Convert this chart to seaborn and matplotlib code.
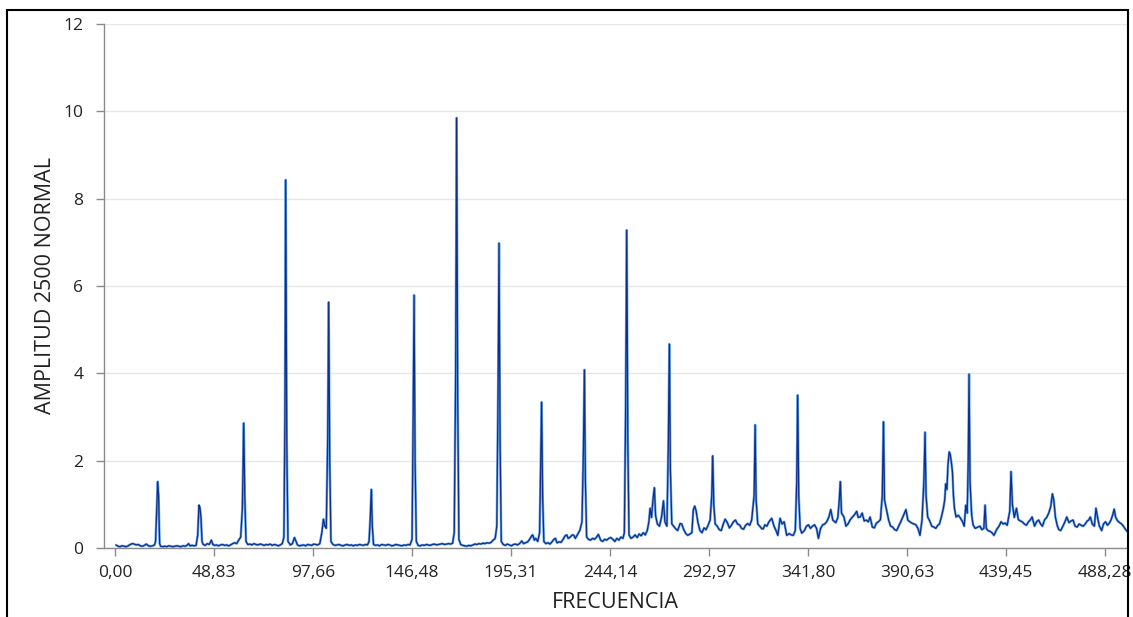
import matplotlib
matplotlib.use("Agg")
import matplotlib.pyplot as plt
import pandas as pd
import seaborn as sns
from matplotlib.patches import Rectangle

frecuencia = [
    0.5, 1.5, 2.5, 3.5, 4.5, 5.5, 6.5, 7.5, 8.5, 9.5, 10.5, 11.5, 12.5, 13.5, 14.5, 15.5, 16.5, 17.5, 18.5, 19.5,
    20.0, 20.6, 21.06, 21.5, 22.0, 22.5, 23.5, 24.5, 25.5, 26.5, 27.5, 28.5, 29.5, 30.5, 31.5, 32.5, 33.5, 34.5,
    35.5, 36.3, 37.0, 38.0, 39.0, 40.0, 40.8, 41.4, 41.9, 42.4, 42.9, 43.5, 44.5, 45.5, 46.5, 47.5, 48.3, 49.0,
    50.0, 51.0, 52.0, 53.0, 54.0, 55.0, 56.0, 57.0, 58.0, 59.0, 60.0, 61.0, 62.0, 62.8, 63.5, 64.0, 64.6, 65.5,
    66.5, 67.5, 68.5, 69.5, 70.5, 71.5, 72.5, 73.5, 74.5, 75.5, 76.5, 77.5, 78.5, 79.5, 80.5, 81.5, 82.5, 83.3,
    83.8, 84.2, 84.7, 85.3, 86.5, 87.5, 88.5, 89.3, 90.0, 91.0, 92.0, 93.0, 94.0, 95.0, 96.0, 97.0, 98.0, 99.0,
    100.0, 101.0, 102.0, 102.8, 103.5, 104.2, 104.9, 105.4, 105.9, 106.5, 107.5, 108.5, 109.5, 110.5, 111.5,
    112.5, 113.5, 114.5, 115.5, 116.5, 117.5, 118.5, 119.5, 120.5, 121.5, 122.5, 123.5, 124.5, 125.3, 125.9,
    126.4, 126.9, 127.5, 128.5, 129.5, 130.5, 131.5, 132.5, 133.5, 134.5, 135.5, 136.5, 137.5, 138.5, 139.5,
    140.5, 141.5, 142.5, 143.5, 144.5, 145.5, 146.5, 147.0, 147.5, 148.0, 148.6, 149.5, 150.5, 151.5, 152.5,
    153.5, 154.5, 155.5, 156.5, 157.5, 158.5, 159.5, 160.5, 161.5, 162.5, 163.5, 164.5, 165.5, 166.5, 167.3,
    168.0, 168.5, 169.0, 169.6, 170.5, 171.5, 172.5, 173.5, 174.5, 175.5, 176.5, 177.5, 178.5, 179.5, 180.5,
    181.5, 182.5, 183.5, 184.5, 185.5, 186.5, 187.5, 188.3, 188.9, 189.4, 189.9, 190.5, 191.5, 192.5, 193.5,
    194.5, 195.5, 196.5, 197.5, 198.5, 199.5, 200.6, 201.5, 202.5, 203.5, 204.5, 205.5, 206.0, 206.8, 207.5,
    208.5, 209.4, 209.9, 210.4, 210.9, 211.5, 212.5, 213.5, 214.5, 215.5, 216.5, 217.2, 218.0, 219.0, 220.0,
    221.0, 222.0, 222.8, 223.5, 224.5, 225.5, 226.3, 227.0, 228.0, 229.3, 230.3, 231.0, 231.5, 232.0, 232.6,
    233.5, 234.5, 235.5, 236.5, 237.5, 238.4, 239.5, 240.5, 241.5, 242.5, 243.5, 244.5,
    245.5, 246.5, 247.5, 248.5, 249.5, 250.5, 251.2, 251.8, 252.4, 252.9, 253.5, 254.5, 255.5, 256.5, 257.5,
    258.5, 259.5, 260.5, 261.5, 262.5, 263.3, 263.9, 264.6, 265.3, 266.0, 266.6, 267.5, 268.5, 269.5, 270.5,
    271.2, 272.2, 272.9, 273.4, 273.9, 274.6, 275.5, 276.5, 277.5, 278.7, 279.5, 280.5, 281.5, 282.5, 283.5,
    284.5, 285.2, 285.9, 286.6, 287.5, 288.5, 289.5, 290.5, 291.5, 292.5, 293.5, 294.3, 294.8, 295.3, 296.0,
    297.0, 298.0, 299.0, 300.0, 300.9, 302.0, 303.0, 304.0, 305.0, 306.0, 307.0, 308.0, 309.0, 310.0, 311.0,
    312.0, 313.0, 314.0, 315.2, 315.7, 316.2, 317.0, 318.0, 319.0, 319.7, 320.5, 321.5, 322.5, 323.9, 325.0,
    326.0, 326.9, 328.0, 329.0, 330.0,
    331.3, 332.5, 333.5, 334.5, 335.5, 336.2, 336.7, 337.2, 337.9, 338.7, 340.0, 341.0, 342.0, 343.0, 344.0,
    345.0, 346.0, 346.9, 348.0, 349.0, 350.0, 351.0, 352.0, 353.0, 354.0, 355.5, 356.5, 357.2, 357.7, 358.3,
    359.5, 360.5, 361.5, 362.5, 363.5, 364.5, 365.8, 366.5, 367.5, 368.5, 369.5, 370.5, 371.5, 372.4, 373.5,
    374.5, 375.5, 376.5, 377.5, 378.4, 379.0, 379.5, 380.6, 381.5, 382.5, 383.5, 384.5, 385.5, 386.5, 387.5,
    388.5, 389.3, 390.1, 391.0, 392.0, 393.0, 394.0, 395.0, 396.0, 397.0, 398.0, 398.9, 399.5, 400.0, 400.8,
    401.8, 402.8, 403.8, 404.8, 405.8, 406.6, 407.5, 408.5, 409.2, 409.7, 410.3, 410.8, 411.4, 411.9, 412.5,
    413.0, 413.5, 414.0, 414.8, 415.9, 417.0, 418.0, 418.8, 419.6, 420.3, 420.8, 421.2, 421.7, 422.5, 423.2,
    424.2, 425.2, 426.6, 427.5, 428.5, 429.1, 429.7, 430.5, 431.6, 432.5, 433.5, 434.9, 436.0, 437.0, 438.0,
    439.0, 440.0, 441.3, 441.9, 442.6, 443.5, 444.6, 445.5, 446.5, 447.4, 448.5, 449.5, 450.5, 451.5, 452.3,
    453.5, 454.5, 455.5, 456.5, 457.4, 458.5, 459.5, 460.5, 461.5, 462.3, 463.0, 463.8, 464.8, 465.5, 466.4,
    467.5, 468.5, 469.4, 470.5, 471.5, 472.5, 473.5, 474.5, 475.5, 476.5, 477.5, 478.5, 479.5, 480.2, 481.0,
    482.0, 483.0, 483.8, 484.8, 485.5, 486.6, 487.5, 488.5, 489.5, 490.5, 491.2, 492.0, 492.8, 493.5, 494.5,
    495.5, 496.2, 497.0, 498.0, 499.2,
]

amplitud = [
    0.07, 0.04, 0.03, 0.05, 0.04, 0.03, 0.05, 0.08, 0.10, 0.09, 0.07, 0.08, 0.05, 0.04, 0.06, 0.09, 0.05, 0.04, 0.05, 0.07,
    0.15, 0.90, 1.52, 1.20, 0.10, 0.04, 0.03, 0.04, 0.03, 0.05, 0.04, 0.03, 0.04, 0.05, 0.04, 0.03, 0.05, 0.04,
    0.06, 0.10, 0.05, 0.06, 0.05, 0.06, 0.30, 0.98, 0.92, 0.70, 0.15, 0.08, 0.06, 0.10, 0.08, 0.18, 0.08, 0.06,
    0.07, 0.05, 0.07, 0.08, 0.06, 0.07, 0.05, 0.07, 0.10, 0.12, 0.10, 0.18, 0.25, 0.90, 2.86, 1.20, 0.15, 0.08,
    0.09, 0.07, 0.10, 0.08, 0.07, 0.09, 0.08, 0.06, 0.08, 0.07, 0.09, 0.06, 0.08, 0.07, 0.05, 0.07, 0.10, 0.25,
    3.00, 8.43, 2.50, 0.15, 0.07, 0.10, 0.24, 0.15, 0.07, 0.05, 0.06, 0.07, 0.05, 0.08, 0.07, 0.06, 0.09, 0.08,
    0.07, 0.10, 0.35, 0.66, 0.50, 0.45, 2.50, 5.63, 2.00, 0.15, 0.08, 0.06, 0.07, 0.08, 0.06,
    0.05, 0.07, 0.08, 0.06, 0.07, 0.05, 0.07, 0.06, 0.08, 0.07, 0.06, 0.08, 0.07, 0.15, 0.70,
    1.34, 0.50, 0.08, 0.06, 0.07, 0.05, 0.08, 0.07, 0.06, 0.08, 0.07, 0.05, 0.06, 0.08, 0.07,
    0.06, 0.05, 0.07, 0.06, 0.08, 0.07, 0.20, 2.80, 5.79, 2.00, 0.15, 0.06, 0.05, 0.07, 0.06,
    0.08, 0.07, 0.06, 0.08, 0.09, 0.07, 0.08, 0.09, 0.10, 0.08, 0.09, 0.10, 0.09, 0.11, 0.35,
    4.00, 9.85, 3.50, 0.20, 0.08, 0.06, 0.05, 0.04, 0.06, 0.05, 0.07, 0.09, 0.08, 0.10, 0.09,
    0.11, 0.10, 0.12, 0.11, 0.13, 0.18, 0.22, 0.50, 3.50, 6.98, 2.50, 0.15, 0.08, 0.06, 0.09,
    0.07, 0.05, 0.08, 0.09, 0.07, 0.10, 0.16, 0.10, 0.12, 0.14, 0.20, 0.28, 0.30, 0.18, 0.22,
    0.15, 0.35, 1.80, 3.34, 1.20, 0.15, 0.10, 0.12, 0.09, 0.14, 0.20, 0.22, 0.12, 0.14, 0.13,
    0.20, 0.28, 0.30, 0.22, 0.25, 0.30, 0.29, 0.22, 0.30, 0.41, 0.60, 2.20, 4.08, 1.50, 0.25,
    0.20, 0.18, 0.22, 0.20, 0.25, 0.31, 0.18, 0.15, 0.20, 0.18, 0.22, 0.24,
    0.20, 0.15, 0.22, 0.18, 0.25, 0.22, 0.35, 3.00, 7.28, 2.50, 0.30, 0.22, 0.25, 0.30, 0.24,
    0.32, 0.28, 0.35, 0.30, 0.40, 0.60, 0.91, 0.70, 1.10, 1.38, 0.74, 0.55, 0.50, 0.70, 1.08,
    0.60, 0.50, 2.40, 4.67, 1.80, 0.55, 0.50, 0.44, 0.40, 0.56, 0.55, 0.42, 0.33, 0.29, 0.32,
    0.35, 0.87, 0.96, 0.85, 0.58, 0.40, 0.35, 0.46, 0.42, 0.52, 0.64, 1.20, 2.11, 1.00, 0.55,
    0.50, 0.42, 0.40, 0.55, 0.66, 0.58, 0.46, 0.52, 0.60, 0.64, 0.55, 0.53, 0.45, 0.43, 0.52,
    0.56, 0.52, 0.64, 1.20, 2.82, 1.10, 0.55, 0.50, 0.44, 0.44, 0.53, 0.50, 0.60, 0.68, 0.50,
    0.40, 0.29, 0.68, 0.55, 0.60,
    0.29, 0.33, 0.30, 0.29, 0.40, 1.50, 3.50, 1.20, 0.45, 0.34, 0.40, 0.50, 0.53, 0.45, 0.50,
    0.53, 0.45, 0.22, 0.45, 0.53, 0.55, 0.60, 0.70, 0.88, 0.64, 0.58, 0.70, 1.10, 1.52, 0.80,
    0.71, 0.50, 0.55, 0.64, 0.70, 0.75, 0.84, 0.70, 0.71, 0.80, 0.62, 0.64, 0.60, 0.71, 0.48,
    0.46, 0.57, 0.60, 0.65, 1.20, 2.89, 1.10, 0.85, 0.65, 0.50, 0.48, 0.42, 0.40, 0.50, 0.60,
    0.71, 0.80, 0.88, 0.64, 0.60, 0.57, 0.55, 0.53, 0.45, 0.29, 0.64, 1.50, 2.65, 1.20, 0.71,
    0.62, 0.50, 0.48, 0.45, 0.52, 0.55, 0.70, 0.90, 1.10, 1.47, 1.34, 1.90, 2.20, 2.15, 1.95,
    1.75, 1.20, 0.91, 0.71, 0.75, 0.68, 0.60, 0.50, 0.98, 0.80, 2.00, 3.98, 1.50, 0.75, 0.53,
    0.45, 0.47, 0.50, 0.42, 0.45, 0.98, 0.45, 0.40, 0.38, 0.35, 0.29, 0.43, 0.50, 0.60, 0.55,
    0.57, 0.52, 0.85, 1.75, 1.00, 0.70, 0.91, 0.65, 0.62, 0.60, 0.55, 0.52, 0.60, 0.65, 0.71,
    0.50, 0.60, 0.64, 0.55, 0.50, 0.65, 0.70, 0.80, 0.95, 1.24, 1.10, 0.70, 0.50, 0.42, 0.40,
    0.50, 0.60, 0.71, 0.58, 0.62, 0.64, 0.50, 0.48, 0.55, 0.52, 0.50, 0.55, 0.62, 0.64, 0.71,
    0.55, 0.50, 0.91, 0.65, 0.50, 0.40, 0.55, 0.60, 0.52, 0.58, 0.64, 0.75, 0.89, 0.70, 0.62,
    0.58, 0.56, 0.52, 0.45, 0.38,
]

x_ticks = [0.00, 48.83, 97.66, 146.48, 195.31, 244.14, 292.97, 341.80, 390.63, 439.45, 488.28]
x_tick_labels = ["0,00", "48,83", "97,66", "146,48", "195,31", "244,14",
                 "292,97", "341,80", "390,63", "439,45", "488,28"]
y_ticks = [0, 2, 4, 6, 8, 10, 12]

df = pd.DataFrame({"FRECUENCIA": frecuencia, "AMPLITUD": amplitud})

sns.set_style("white")
plt.rcParams["font.family"] = ["Open Sans", "DejaVu Sans"]

W, H = 1133, 617
fig = plt.figure(figsize=(W / 100, H / 100), dpi=100)
ax = fig.add_axes([104 / W, (H - 548) / H, (1127 - 104) / W, (548 - 24) / H])

sns.lineplot(data=df, x="FRECUENCIA", y="AMPLITUD", ax=ax, sort=False,
             color="#6fa8e6", linewidth=1.8)
sns.lineplot(data=df, x="FRECUENCIA", y="AMPLITUD", ax=ax, sort=False,
             color="#0c2f8c", linewidth=0.9)

ax.set_xlim(-5.43, 499.1)
ax.set_ylim(0, 12)
ax.set_xticks(x_ticks)
ax.set_xticklabels(x_tick_labels)
ax.set_yticks(y_ticks)
ax.set_yticklabels([str(v) for v in y_ticks])

ax.yaxis.grid(True, color="#e6e6e6", linewidth=1)
ax.xaxis.grid(False)
ax.set_axisbelow(True)

for s in ["top", "right"]:
    ax.spines[s].set_visible(False)
for s in ["left", "bottom"]:
    ax.spines[s].set_color("#8a8a8a")
    ax.spines[s].set_linewidth(1.0)

ax.tick_params(axis="both", which="major", bottom=True, left=True, direction="out",
               length=6, width=1, color="#8a8a8a", labelsize=12.5, labelcolor="#222222")
ax.tick_params(axis="y", pad=9)
ax.tick_params(axis="x", pad=6)

ax.set_xlabel("FRECUENCIA", fontsize=15.5, color="#222222", labelpad=8)
ax.set_ylabel("AMPLITUD 2500 NORMAL", fontsize=15.5, color="#222222", labelpad=5)

fig.patches.append(Rectangle((7 / W, -0.05), (1128 - 7) / W, 1 - 10 / H + 0.05,
                             transform=fig.transFigure, fill=False,
                             edgecolor="black", linewidth=1.5))

fig.savefig("out.png", dpi=100)
